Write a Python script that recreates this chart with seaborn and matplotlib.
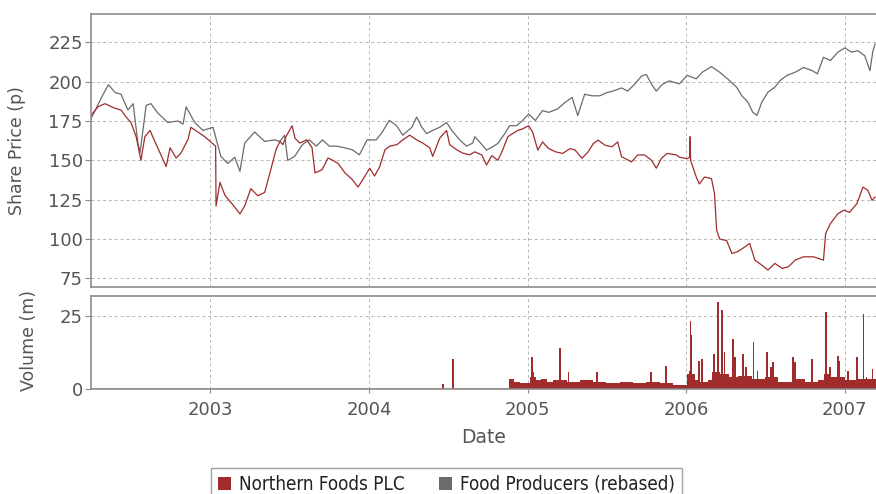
import pandas as pd
import matplotlib
matplotlib.use("Agg")
import matplotlib.pyplot as plt
import matplotlib.dates as mdates
from matplotlib.patches import Patch
import seaborn as sns

# Northern Foods PLC share price (p)
nf_dates = [
    "2002-04-01", "2002-04-17", "2002-05-03", "2002-05-27", "2002-06-09", "2002-06-21",
    "2002-07-02", "2002-07-14", "2002-07-25", "2002-08-03", "2002-08-15", "2002-08-26",
    "2002-09-09", "2002-09-21", "2002-09-30", "2002-10-14", "2002-10-25", "2002-11-10",
    "2002-11-17", "2002-12-03", "2002-12-19", "2003-01-13", "2003-01-14", "2003-01-23",
    "2003-02-04", "2003-02-18", "2003-03-10", "2003-03-21", "2003-04-04", "2003-04-20",
    "2003-05-06", "2003-05-20", "2003-06-01", "2003-06-10", "2003-06-17", "2003-06-24",
    "2003-07-08", "2003-07-15", "2003-07-26", "2003-08-11", "2003-08-23", "2003-08-30",
    "2003-09-15", "2003-09-29", "2003-10-10", "2003-10-22", "2003-11-07", "2003-11-23",
    "2003-12-07", "2003-12-23", "2004-01-03", "2004-01-14", "2004-01-26", "2004-02-07",
    "2004-02-18", "2004-03-06", "2004-03-19", "2004-04-04", "2004-04-20", "2004-05-04",
    "2004-05-20", "2004-05-27", "2004-06-12", "2004-06-28", "2004-07-05", "2004-07-21",
    "2004-08-04", "2004-08-20", "2004-09-01", "2004-09-17", "2004-09-28", "2004-10-10",
    "2004-10-24", "2004-11-04", "2004-11-16", "2004-11-27", "2004-12-09", "2004-12-20",
    "2005-01-03", "2005-01-12", "2005-01-24", "2005-02-04", "2005-02-18", "2005-03-06",
    "2005-03-22", "2005-04-09", "2005-04-20", "2005-05-06", "2005-05-20", "2005-06-01",
    "2005-06-12", "2005-06-28", "2005-07-14", "2005-07-27", "2005-08-05", "2005-08-28",
    "2005-09-11", "2005-09-27", "2005-10-13", "2005-10-24", "2005-11-05", "2005-11-18",
    "2005-12-09", "2005-12-16", "2006-01-03", "2006-01-09", "2006-01-10", "2006-01-11",
    "2006-01-24", "2006-01-31", "2006-02-12", "2006-02-28", "2006-03-07", "2006-03-12",
    "2006-03-19", "2006-04-04", "2006-04-16", "2006-04-29", "2006-05-16", "2006-05-27",
    "2006-06-08", "2006-06-24", "2006-07-08", "2006-07-24", "2006-08-10", "2006-08-24",
    "2006-09-09", "2006-09-28", "2006-10-21", "2006-11-13", "2006-11-18", "2006-11-29",
    "2006-12-16", "2006-12-30", "2007-01-12", "2007-01-29", "2007-02-12", "2007-02-23",
    "2007-03-05", "2007-03-12",
]
nf_price = [
    178.5, 184, 186, 183, 182, 177.5,
    174, 165, 150, 165, 169, 162,
    153.5, 146, 158, 151.5, 154.6, 163,
    171, 168, 165, 159, 121, 136,
    127.5, 123, 116, 121, 132, 127.5,
    129.6, 144, 156.7, 162, 160, 165,
    172, 164, 161, 163, 158, 142,
    144, 151.5, 150, 148, 142, 138,
    133, 140, 145, 140, 146, 156.7,
    159, 160, 163, 166, 163, 161,
    158, 152.5, 164, 169, 160, 156.7,
    154.6, 153.5, 155.4, 153.4, 147, 153,
    150, 156.5, 165, 167, 169, 170,
    172, 168, 156.5, 161.7, 157.5, 155.4,
    154.4, 157.5, 156.5, 151.3, 155.4, 160.7,
    162.8, 159.6, 158.6, 161.7, 152.3, 149,
    153.4, 153.4, 150, 145, 151.3, 154.4,
    153.4, 152, 151, 152, 165, 150,
    139.4, 135, 139.4, 138.4, 128.9, 105.6,
    100, 99, 90.8, 91.9, 95, 97.2,
    86.6, 83.4, 80.3, 84.5, 81.3, 82.4,
    86.6, 88.7, 88.7, 86.6, 103.5, 109.8,
    116, 118.3, 117, 122.5, 133, 131,
    124.6, 126.7,
]

# Food Producers sector index, rebased
fp_dates = [
    "2002-04-01", "2002-04-29", "2002-05-11", "2002-05-27", "2002-06-09", "2002-06-25",
    "2002-07-07", "2002-07-18", "2002-07-23", "2002-08-06", "2002-08-17", "2002-09-02",
    "2002-09-25", "2002-10-18", "2002-10-30", "2002-11-06", "2002-11-26", "2002-12-15",
    "2003-01-07", "2003-01-25", "2003-02-10", "2003-02-26", "2003-03-10", "2003-03-21",
    "2003-04-13", "2003-05-06", "2003-05-29", "2003-06-10", "2003-06-21", "2003-06-28",
    "2003-07-14", "2003-08-01", "2003-08-17", "2003-09-02", "2003-09-16", "2003-10-02",
    "2003-10-18", "2003-11-06", "2003-11-24", "2003-12-10", "2003-12-28", "2004-01-18",
    "2004-02-01", "2004-02-17", "2004-03-05", "2004-03-19", "2004-04-09", "2004-04-20",
    "2004-05-02", "2004-05-13", "2004-05-27", "2004-06-12", "2004-06-28", "2004-07-10",
    "2004-07-28", "2004-08-13", "2004-08-27", "2004-09-01", "2004-09-12", "2004-09-28",
    "2004-10-12", "2004-10-24", "2004-11-09", "2004-11-20", "2004-12-06", "2004-12-20",
    "2005-01-03", "2005-01-18", "2005-02-04", "2005-02-18", "2005-03-10", "2005-03-28",
    "2005-04-13", "2005-04-26", "2005-05-12", "2005-05-29", "2005-06-16", "2005-07-02",
    "2005-07-16", "2005-08-05", "2005-08-19", "2005-09-04", "2005-09-20", "2005-10-01",
    "2005-10-13", "2005-10-24", "2005-11-07", "2005-11-23", "2005-12-16", "2006-01-03",
    "2006-01-24", "2006-02-07", "2006-02-28", "2006-03-19", "2006-04-06", "2006-04-27",
    "2006-05-09", "2006-05-23", "2006-06-03", "2006-06-13", "2006-06-24", "2006-07-08",
    "2006-07-24", "2006-08-05", "2006-08-21", "2006-09-09", "2006-09-28", "2006-10-18",
    "2006-10-30", "2006-11-13", "2006-11-29", "2006-12-16", "2007-01-01", "2007-01-17",
    "2007-01-31", "2007-02-16", "2007-02-28", "2007-03-07", "2007-03-12",
]
fp_price = [
    176.5, 192, 198, 193, 192, 182,
    186, 161, 155, 185, 186, 180,
    174, 175, 173, 184, 174, 169,
    171, 152.5, 148, 152, 143, 161,
    168, 162, 163, 162, 166, 150,
    152.5, 160, 163, 159, 163, 159,
    159, 158, 156.7, 153.5, 163, 163,
    168, 175.4, 172, 166, 171, 177.5,
    171, 167, 169, 171, 174, 169,
    163, 159, 161, 165, 161.7, 156.5,
    158.6, 160.7, 167, 172, 172, 175.3,
    179.5, 175.3, 181.6, 180.5, 182.6, 186.8,
    190, 178.5, 192, 191, 191, 193,
    194, 196, 194, 198.3, 203.6, 204.6,
    198.3, 194, 198.3, 200.5, 198.6, 204,
    201.8, 206, 209.6, 206, 201.8, 196.5,
    191, 187, 180.6, 178.5, 187, 193.3,
    196.5, 200.7, 204, 206, 209, 207,
    205, 215.5, 213.4, 218.7, 221.4, 218.7,
    219.7, 216.5, 207, 219.7, 224,
]

# Northern Foods trading volume (m shares): typical daily level and single-day spikes
vol_dates = [
    "2002-04-01", "2004-11-18", "2004-12-01", "2004-12-15", "2005-01-05", "2005-01-20",
    "2005-02-01", "2005-02-15", "2005-03-01", "2005-04-01", "2005-05-01", "2005-06-01",
    "2005-07-01", "2005-08-01", "2005-09-01", "2005-10-01", "2005-11-01", "2005-12-01",
    "2006-01-03", "2006-01-20", "2006-02-01", "2006-02-20", "2006-03-01", "2006-03-20",
    "2006-04-10", "2006-05-01", "2006-06-01", "2006-07-01", "2006-08-01", "2006-09-01",
    "2006-10-01", "2006-11-01", "2006-11-15", "2006-12-01", "2007-01-01", "2007-02-01",
    "2007-03-14",
]
vol_level = [
    0, 3.5, 2.5, 2, 4, 3,
    3.5, 2.5, 3, 2.5, 3, 2.5,
    2, 2.5, 2, 2.5, 2, 1.5,
    5, 3, 2.5, 3, 6, 5,
    4, 4.5, 3.5, 4, 2.5, 3.5,
    2.5, 3, 5, 4, 3, 3.5,
    3.5,
]
spike_dates = [
    "2004-06-19", "2004-07-13", "2004-07-14", "2005-01-11", "2005-01-14", "2005-03-16",
    "2005-04-05", "2005-06-10", "2005-10-12", "2005-11-16", "2006-01-09", "2006-01-11",
    "2006-01-13", "2006-01-30", "2006-02-06", "2006-03-06", "2006-03-15", "2006-03-24",
    "2006-03-30", "2006-04-19", "2006-04-24", "2006-05-12", "2006-05-18", "2006-06-05",
    "2006-06-14", "2006-07-06", "2006-07-16", "2006-07-20", "2006-09-04", "2006-09-08",
    "2006-10-18", "2006-11-18", "2006-11-20", "2006-11-28", "2006-12-16", "2006-12-20",
    "2007-01-08", "2007-01-30", "2007-02-13", "2007-02-20", "2007-03-06",
]
spike_vol = [
    1.7, 10.3, 6.3, 10.9, 6, 14.1,
    5.7, 5.7, 5.7, 8, 6.3, 23.5,
    18.4, 9.7, 10.3, 12, 29.8, 27,
    12.6, 17.2, 10.9, 12, 7.5, 16,
    6.3, 12.6, 7.5, 9.2, 10.9, 9.2,
    10.3, 26.4, 13.8, 7.5, 11.5, 9.7,
    6.3, 10.9, 25.8, 4, 6.9,
]

nf_name = "Northern Foods PLC"
fp_name = "Food Producers (rebased)"
red = "#a02c2c"
grey = "#6b6b6b"

nf = pd.DataFrame({"date": pd.to_datetime(nf_dates), "price": nf_price})
fp = pd.DataFrame({"date": pd.to_datetime(fp_dates), "price": fp_price})
vol = pd.DataFrame({"date": pd.to_datetime(vol_dates), "level": vol_level})
spk = pd.DataFrame({"date": pd.to_datetime(spike_dates), "volume": spike_vol})

sns.set_theme(style="white")
plt.rcParams["font.family"] = ["DejaVu Sans"]

fig = plt.figure(figsize=(8.76, 4.94), dpi=100)
ax1 = fig.add_axes([0.1039, 0.4190, 0.8961, 0.5527])
ax2 = fig.add_axes([0.1039, 0.2126, 0.8961, 0.1883], sharex=ax1)

sns.lineplot(data=fp, x="date", y="price", ax=ax1, color=grey, lw=0.9, estimator=None)
sns.lineplot(data=nf, x="date", y="price", ax=ax1, color=red, lw=0.9, estimator=None)

ax2.fill_between(vol["date"], 0, vol["level"], step="post", color=red, lw=0)
ax2.bar(spk["date"], spk["volume"], width=4, color=red, lw=0)
ax2.axhline(0, color="#707070", lw=1.0, zorder=3)

ax1.set_xlim(pd.Timestamp("2002-04-01"), pd.Timestamp("2007-03-14"))
ax1.set_ylim(69.5, 243)
ax1.set_yticks([75, 100, 125, 150, 175, 200, 225])
ax2.set_ylim(0, 32)
ax2.set_yticks([0, 25])
ax2.xaxis.set_major_locator(mdates.YearLocator())
ax2.xaxis.set_major_formatter(mdates.DateFormatter("%Y"))

tick_col = "#555555"
fs = 13
for ax in (ax1, ax2):
    ax.grid(True, color="#b4b4b4", ls=(0, (3, 3)), lw=0.7)
    for side, sp in ax.spines.items():
        sp.set_color("#8c8c8c")
        sp.set_linewidth(1.2)
    ax.spines["right"].set_visible(False)
    ax.tick_params(axis="y", left=True, length=4, width=0.8, color="#8c8c8c",
                   labelsize=fs, labelcolor=tick_col, pad=2)
    ax.set_axisbelow(True)

ax1.tick_params(axis="x", bottom=False, labelbottom=False)
ax2.tick_params(axis="x", bottom=True, length=3, width=0.8, color="#8c8c8c",
                labelsize=fs, labelcolor=tick_col, pad=6)

ax1.set_xlabel("")
ax1.set_ylabel("Share Price (p)", fontsize=12.5, color=tick_col)
ax1.yaxis.set_label_coords(-0.083, 0.5)
ax2.set_ylabel("Volume (m)", fontsize=12.5, color=tick_col)
ax2.yaxis.set_label_coords(-0.068, 0.52)
ax2.set_xlabel("Date", fontsize=fs + 0.5, color=tick_col, labelpad=6)

handles = [Patch(facecolor=red, edgecolor="none", label=nf_name),
           Patch(facecolor=grey, edgecolor="none", label=fp_name)]
leg = fig.legend(handles=handles, loc="upper center", bbox_to_anchor=(0.5097, 0.052),
                 ncol=2, frameon=True, fancybox=False, fontsize=13.5,
                 handlelength=0.7, handleheight=0.7, handletextpad=0.45,
                 columnspacing=1.8, borderpad=0.35, borderaxespad=0)
leg.get_frame().set_edgecolor("#8c8c8c")
leg.get_frame().set_linewidth(1.0)
for t in leg.get_texts():
    t.set_color("#222222")
    t.set_fontstretch("condensed")

fig.savefig("out.png", dpi=100)
